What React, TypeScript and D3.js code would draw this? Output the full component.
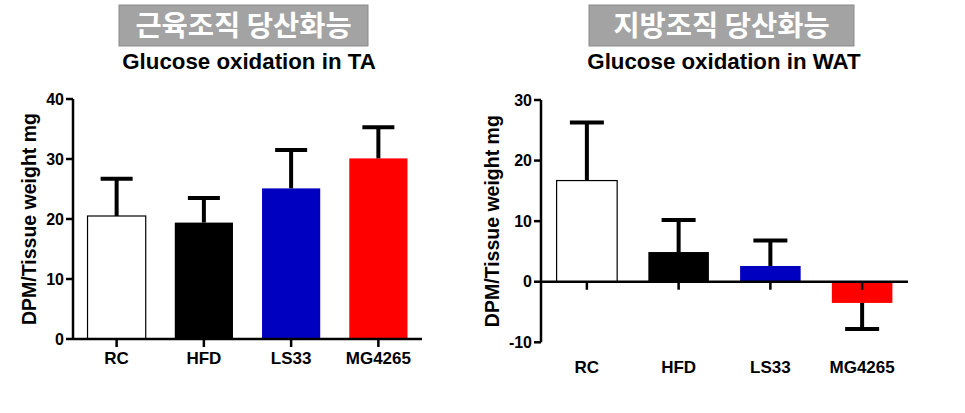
import React from "react";
import * as d3 from "d3";

const categories = ["RC", "HFD", "LS33", "MG4265"];
const barColors = ["#ffffff", "#000000", "#0000c0", "#ff0000"];

const taMeans = [20.5, 19.4, 25.1, 30.1];
const taErrors = [6.2, 4.1, 6.4, 5.2];
const taTicks = [0, 10, 20, 30, 40];

const watMeans = [16.7, 4.9, 2.6, -3.5];
const watErrors = [9.6, 5.3, 4.2, 4.3];
const watTicks = [-10, 0, 10, 20, 30];

const FONT = "'Liberation Sans', Arial, sans-serif";
const KFONT = "'Noto Sans CJK KR', sans-serif";

type PanelProps = {
  korTitle: string;
  title: string;
  means: number[];
  errors: number[];
  ticks: number[];
  domain: [number, number];
  xRange: [number, number];
  yRange: [number, number];
  pad: number;
  boxX: [number, number];
  titleX: number;
  yLabelX: number;
  labelY: number;
  capW: number;
};

function Panel(p: PanelProps) {
  const x = d3
    .scaleBand<string>()
    .domain(categories)
    .range(p.xRange)
    .paddingInner(p.pad)
    .paddingOuter(p.pad / 2);
  const y = d3.scaleLinear().domain(p.domain).range(p.yRange);
  const y0 = y(0);
  const axisX = p.xRange[0];
  const yMid = (p.yRange[0] + p.yRange[1]) / 2;
  return (
    <g>
      <rect
        x={p.boxX[0]}
        y={5}
        width={p.boxX[1] - p.boxX[0]}
        height={41}
        fill="#a3a3a3"
        stroke="#8a8a8a"
        strokeWidth={1}
      />
      <text
        x={(p.boxX[0] + p.boxX[1]) / 2}
        y={36}
        textAnchor="middle"
        fill="#ffffff"
        fontFamily={KFONT}
        fontWeight="bold"
        fontSize={28.5}
      >
        {p.korTitle}
      </text>
      <text
        x={p.titleX}
        y={69}
        textAnchor="middle"
        fontFamily={FONT}
        fontWeight="bold"
        fontSize={22.3}
      >
        {p.title}
      </text>
      <text
        transform={`translate(${p.yLabelX},${yMid}) rotate(-90)`}
        textAnchor="middle"
        dominantBaseline="central"
        fontFamily={FONT}
        fontWeight="bold"
        fontSize={19.5}
      >
        DPM/Tissue weight mg
      </text>
      {categories.map((c, i) => {
        const v = p.means[i];
        const top = Math.min(y(v), y0);
        const h = Math.abs(y(v) - y0);
        return (
          <rect
            key={c}
            x={x(c)!}
            y={top}
            width={x.bandwidth()}
            height={h}
            fill={barColors[i]}
            stroke={i === 0 ? "#000" : barColors[i]}
            strokeWidth={i === 0 ? 1.2 : 0}
          />
        );
      })}
      {categories.map((c, i) => {
        const v = p.means[i];
        const e = v >= 0 ? v + p.errors[i] : v - p.errors[i];
        const cx = x(c)! + x.bandwidth() / 2;
        return (
          <g key={c}>
            <line x1={cx} x2={cx} y1={y(v)} y2={y(e)} stroke="#000" strokeWidth={4} />
            <line
              x1={cx - p.capW / 2}
              x2={cx + p.capW / 2}
              y1={y(e)}
              y2={y(e)}
              stroke="#000"
              strokeWidth={4}
            />
          </g>
        );
      })}
      <line x1={axisX} x2={axisX} y1={p.yRange[1]} y2={p.yRange[0]} stroke="#000" strokeWidth={2.5} />
      {p.ticks.map((t) => (
        <g key={t}>
          <line x1={axisX - 7} x2={axisX} y1={y(t)} y2={y(t)} stroke="#000" strokeWidth={2.5} />
          <text
            x={axisX - 9}
            y={y(t)}
            textAnchor="end"
            dominantBaseline="central"
            fontFamily={FONT}
            fontWeight="bold"
            fontSize={16}
          >
            {t}
          </text>
        </g>
      ))}
      <line x1={axisX} x2={p.xRange[1]} y1={y0} y2={y0} stroke="#000" strokeWidth={2.5} />
      {categories.map((c) => {
        const cx = x(c)! + x.bandwidth() / 2;
        return (
          <g key={c}>
            <line x1={cx} x2={cx} y1={y0} y2={y0 + 8} stroke="#000" strokeWidth={2.5} />
            <text
              x={cx}
              y={p.labelY}
              textAnchor="middle"
              fontFamily={FONT}
              fontWeight="bold"
              fontSize={17}
            >
              {c}
            </text>
          </g>
        );
      })}
    </g>
  );
}

export default function App() {
  return (
    <svg
      width={965}
      height={413}
      style={{ position: "absolute", left: 0, top: 0, background: "#fff" }}
    >
      <rect width={965} height={413} fill="#fff" />
      <Panel
        korTitle="근육조직 당산화능"
        title="Glucose oxidation in TA"
        means={taMeans}
        errors={taErrors}
        ticks={taTicks}
        domain={[0, 40]}
        xRange={[73, 422]}
        yRange={[339, 99]}
        pad={0.333}
        boxX={[119, 368]}
        titleX={249}
        yLabelX={29}
        labelY={364}
        capW={32}
      />
      <Panel
        korTitle="지방조직 당산화능"
        title="Glucose oxidation in WAT"
        means={watMeans}
        errors={watErrors}
        ticks={watTicks}
        domain={[-10, 30]}
        xRange={[541, 908]}
        yRange={[342.3, 100]}
        pad={0.34}
        boxX={[589, 854]}
        titleX={724}
        yLabelX={492}
        labelY={373}
        capW={34}
      />
    </svg>
  );
}
